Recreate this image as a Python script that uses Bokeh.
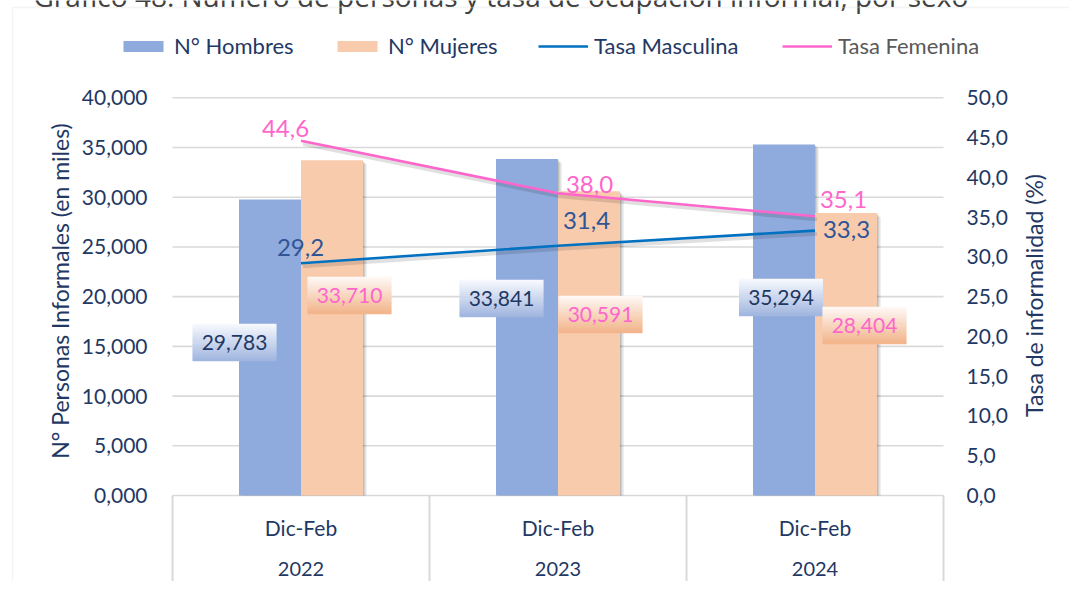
import math
from bokeh.plotting import figure
from bokeh.models import Range1d, LinearAxis, FixedTicker, Legend, LegendItem, BoxAnnotation
from bokeh.core.properties import value
from bokeh.embed import file_html
from bokeh.resources import INLINE

# ---------------- data ----------------
title = "Gráfico 48: Número de personas y tasa de ocupación informal, por sexo"
periods = ["Dic-Feb", "Dic-Feb", "Dic-Feb"]
years = ["2022", "2023", "2024"]
hombres = [29783, 33841, 35294]
mujeres = [33710, 30591, 28404]
tasa_masc = [29.2, 31.4, 33.3]
tasa_fem = [44.6, 38.0, 35.1]
left_ticks = [0, 5000, 10000, 15000, 20000, 25000, 30000, 35000, 40000]
left_tick_labels = ["0,000", "5,000", "10,000", "15,000", "20,000", "25,000", "30,000", "35,000", "40,000"]
right_ticks = [0, 5, 10, 15, 20, 25, 30, 35, 40, 45, 50]
right_tick_labels = ["0,0", "5,0", "10,0", "15,0", "20,0", "25,0", "30,0", "35,0", "40,0", "45,0", "50,0"]
legend_labels = ["N° Hombres", "N° Mujeres", "Tasa Masculina", "Tasa Femenina"]
left_axis_title = "N° Personas Informales (en miles)"
right_axis_title = "Tasa de informalidad (%)"

# ---------------- layout / style ----------------
W, H = 1069, 581
PLOT_LEFT = 172                    # canvas x where the category area starts
CAT_PX = 257                       # pixels per category
ZERO_PX = 495                      # canvas y of the zero line
PX_PER_UNIT = 397.7 / 40000        # left-axis pixels per person
RATE_SCALE = 40000 / 50            # right axis 50 % <-> left 40,000
BAR_PX = 62

FONT = "Lato"
NAVY = "#1F3864"
C_H, C_M = "#8FAADC", "#F8CBAD"
C_LM, C_LF = "#0070C0", "#FF66CC"
GRID = "#D9D9D9"

# label placement (pixels): bar labels (dx from bar centre, height above zero)
HL_DX, HL_UP = [-35.5, -25.5, -3], [153, 197, 198]
ML_DX, ML_UP = [17.5, 11.5, 18.5], [200, 181, 170]
# line labels (dx from category centre, dy above point)
LM_DX, LM_UP = [-0.5, 28.5, 31.5], [16, 25, 1]
LF_DX, LF_UP = [-15.5, 31.5, 28.5], [12, 9, 17]
BOX_W, BOX_H = 84, 37
LEGEND_X = [118, 332, 538, 782]
LEGEND_BOTTOM = 59
LEGEND_COLORS = [NAVY, NAVY, NAVY, "#595959"]


def up(px):
    return px / PX_PER_UNIT


def up_rate(px):
    return px / PX_PER_UNIT / RATE_SCALE


def right(px):
    return px / CAT_PX


def mix(c1, c2, t):
    a = [int(c1[i:i + 2], 16) for i in (1, 3, 5)]
    b = [int(c2[i:i + 2], 16) for i in (1, 3, 5)]
    return "#%02x%02x%02x" % tuple(round(a[k] + (b[k] - a[k]) * t) for k in range(3))


n = len(years)
y_start, y_end = -up(H - ZERO_PX), up(ZERO_PX)
x_start, x_end = -right(PLOT_LEFT), right(W - PLOT_LEFT)

p = figure(width=W, height=H, output_backend="svg", toolbar_location=None,
           x_range=Range1d(x_start, x_end), y_range=Range1d(y_start, y_end),
           x_axis_location=None, title=None,
           min_border_left=0, min_border_right=0, min_border_top=0, min_border_bottom=0)
p.extra_y_ranges = {"tasa": Range1d(y_start / RATE_SCALE, y_end / RATE_SCALE)}
p.outline_line_color = None
p.background_fill_color = "white"
p.border_fill_color = "white"
p.xgrid.visible = False
p.ygrid.visible = False

# horizontal gridlines across the category area only
p.segment(x0=[0] * len(left_ticks), x1=[n] * len(left_ticks), y0=left_ticks, y1=left_ticks,
          line_color=GRID, line_width=1.6)
# category separators below the zero line
bounds = list(range(n + 1))
p.segment(x0=bounds, y0=[0] * len(bounds), x1=bounds, y1=[y_start] * len(bounds),
          line_color=GRID, line_width=2)

# left axis, pinned at the left edge of the category area
ya = p.yaxis[0]
ya.fixed_location = 0
ya.ticker = FixedTicker(ticks=left_ticks)
ya.major_label_overrides = {t: l for t, l in zip(left_ticks, left_tick_labels)}
ya.axis_label = left_axis_title

# right axis, pinned at the right edge of the category area
ra = LinearAxis(y_range_name="tasa", ticker=FixedTicker(ticks=right_ticks), fixed_location=n,
                major_label_overrides={t: l for t, l in zip(right_ticks, right_tick_labels)})
p.add_layout(ra, "right")

for ax, standoff in ((ya, 25), (ra, 23)):
    ax.axis_line_color = None
    ax.major_tick_line_color = None
    ax.minor_tick_line_color = None
    ax.major_tick_out = 0
    ax.major_tick_in = 0
    ax.major_label_standoff = standoff
    ax.major_label_text_font = FONT
    ax.major_label_text_font_size = "21px"
    ax.major_label_text_color = NAVY
ya.axis_label_text_font = FONT
ya.axis_label_text_font_size = "23px"
ya.axis_label_text_font_style = "normal"
ya.axis_label_text_color = NAVY
ya.axis_label_standoff = 5

# right axis title, reading bottom-to-top as in the original
p.text(x=[n + right(90)], y=[up(ZERO_PX - 295)], text=[right_axis_title], angle=math.pi / 2,
       text_font=value(FONT), text_font_size="23px", text_color=NAVY,
       text_align="center", text_baseline="middle")

centres = [i + 0.5 for i in range(n)]
bw = right(BAR_PX)
xh = [c - bw / 2 for c in centres]
xm = [c + bw / 2 for c in centres]

# bar shadows
for off, alpha in ((4, 0.06), (2.5, 0.10), (1.2, 0.12)):
    for xs, vals in ((xh, hombres), (xm, mujeres)):
        p.vbar(x=[x + right(off) for x in xs], top=[v - up(off) for v in vals], bottom=0,
               width=bw, fill_color="#000000", fill_alpha=alpha, line_color=None)

rh = p.vbar(x=xh, top=hombres, width=bw, fill_color=C_H, line_color=None)
rm = p.vbar(x=xm, top=mujeres, width=bw, fill_color=C_M, line_color=None)

# line shadows
for vals in (tasa_masc, tasa_fem):
    p.line(x=[c + right(2) for c in centres], y=[v - up_rate(3) for v in vals],
           y_range_name="tasa", line_color="#000000", line_alpha=0.12, line_width=4)

rlm = p.line(x=centres, y=tasa_masc, y_range_name="tasa", line_color=C_LM, line_width=2.6)
rlf = p.line(x=centres, y=tasa_fem, y_range_name="tasa", line_color=C_LF, line_width=2.6)


# bar value labels with gradient boxes
def grad_boxes(xs, ys, top_c, bot_c, nb=18):
    for j in range(nb):
        frac = (j + 0.5) / nb
        p.rect(x=xs, y=[y + up(BOX_H / 2 - frac * BOX_H) for y in ys],
               width=BOX_W, height=BOX_H / nb + 0.7, width_units="screen", height_units="screen",
               fill_color=mix(top_c, bot_c, j / (nb - 1)), line_color=None)


hx = [x + right(d) for x, d in zip(xh, HL_DX)]
hy = [up(u) for u in HL_UP]
mx = [x + right(d) for x, d in zip(xm, ML_DX)]
my = [up(u) for u in ML_UP]
grad_boxes(hx, hy, "#F6F8FD", "#A2B7E0")
grad_boxes(mx, my, "#FEF8F4", "#F2B58C")

p.text(x=hx, y=hy, text=[f"{v:,}" for v in hombres], text_font=value(FONT), text_font_size="21px",
       text_color=NAVY, text_align="center", text_baseline="middle")
p.text(x=mx, y=my, text=[f"{v:,}" for v in mujeres], text_font=value(FONT), text_font_size="21px",
       text_color=C_LF, text_align="center", text_baseline="middle")

# line value labels
p.text(x=[c + right(d) for c, d in zip(centres, LM_DX)],
       y=[v + up_rate(u) for v, u in zip(tasa_masc, LM_UP)], y_range_name="tasa",
       text=[f"{v:.1f}".replace(".", ",") for v in tasa_masc], text_font=value(FONT),
       text_font_size="24px", text_color="#2F5597", text_align="center", text_baseline="middle")
p.text(x=[c + right(d) for c, d in zip(centres, LF_DX)],
       y=[v + up_rate(u) for v, u in zip(tasa_fem, LF_UP)], y_range_name="tasa",
       text=[f"{v:.1f}".replace(".", ",") for v in tasa_fem], text_font=value(FONT),
       text_font_size="24px", text_color=C_LF, text_align="center", text_baseline="middle")

# category labels (two rows)
p.text(x=centres, y=[-up(32)] * n, text=periods, text_font=value(FONT), text_font_size="21px",
       text_color=NAVY, text_align="center", text_baseline="middle")
p.text(x=centres, y=[-up(73)] * n, text=years, text_font=value(FONT), text_font_size="20px",
       text_color=NAVY, text_align="center", text_baseline="middle")

# chart title (cut by the top edge, as in the original)
p.text(x=[right(33 - PLOT_LEFT)], y=[up(ZERO_PX + 5)], text=[title], text_font=value("Open Sans"),
       text_font_size="28px", text_color="#404040", text_align="left", text_baseline="alphabetic")

# legend: one entry per series, positioned like the original
for lab, rend, lx, col in zip(legend_labels, [rh, rm, rlm, rlf], LEGEND_X, LEGEND_COLORS):
    p.add_layout(Legend(items=[LegendItem(label=lab, renderers=[rend])],
                        orientation="horizontal", location=(lx, H - LEGEND_BOTTOM),
                        glyph_width=50, glyph_height=14, label_standoff=6, padding=0, margin=0,
                        border_line_alpha=0, background_fill_alpha=0,
                        label_text_font=FONT, label_text_font_size="22px", label_text_color=col))

# outer chart border (screen y counted from the bottom of the frame)
p.add_layout(BoxAnnotation(left=12, right=W + 20, top=H - 7, bottom=-20,
                           left_units="screen", right_units="screen", top_units="screen",
                           bottom_units="screen", fill_alpha=0, line_color=GRID, line_width=1.5))

open("out.html", "w").write(file_html(p, INLINE))
